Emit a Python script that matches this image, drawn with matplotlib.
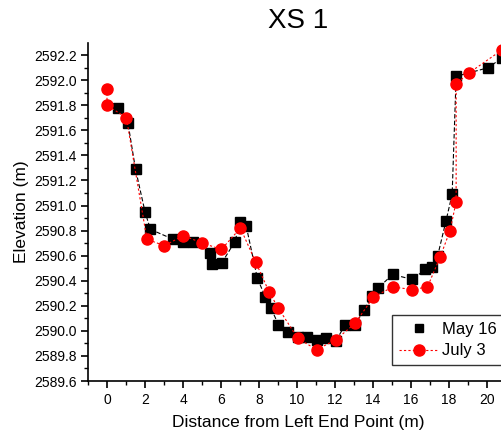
import matplotlib
matplotlib.use('Agg')
import matplotlib.pyplot as plt
from matplotlib.ticker import MultipleLocator, FormatStrFormatter
from matplotlib.lines import Line2D

# Survey of May 16 (black squares).
may_x = [0.6, 1.1, 1.5, 2.0, 2.28, 3.49, 3.98, 4.51, 5.42, 5.54, 6.03, 6.72,
	7.02, 7.32, 7.91, 8.33, 8.63, 9.02, 9.51, 10.04, 10.54, 11.03, 11.54,
	12.05, 12.53, 13.05, 13.54, 13.93, 14.25, 15.03, 16.07, 16.74, 17.09,
	17.40, 17.84, 18.16, 18.37, 20.07, 20.8]
may_y = [2591.78, 2591.66, 2591.29, 2590.95, 2590.81, 2590.73, 2590.71,
	2590.71, 2590.62, 2590.53, 2590.54, 2590.71, 2590.87, 2590.84, 2590.42,
	2590.27, 2590.18, 2590.05, 2589.99, 2589.95, 2589.95, 2589.93, 2589.94,
	2589.92, 2590.05, 2590.05, 2590.17, 2590.28, 2590.34, 2590.45, 2590.41,
	2590.49, 2590.51, 2590.60, 2590.88, 2591.09, 2592.03, 2592.10, 2592.18]

# Survey of July 3 (red circles).
july_x = [0, 0, 1.02, 2.1, 3.02, 4.02, 5.02, 6.02, 7.02, 7.82, 8.53, 9.02,
	10.04, 11.03, 12.05, 13.05, 14.02, 15.03, 16.07, 16.86, 17.53, 18.05,
	18.37, 18.37, 19.07, 20.77]
july_y = [2591.93, 2591.80, 2591.70, 2590.73, 2590.68, 2590.76, 2590.70,
	2590.65, 2590.82, 2590.55, 2590.31, 2590.18, 2589.94, 2589.85, 2589.93,
	2590.06, 2590.27, 2590.35, 2590.33, 2590.35, 2590.59, 2590.80, 2591.03,
	2591.97, 2592.06, 2592.24]

plt.rcParams['font.family'] = ['Liberation Sans', 'DejaVu Sans']

fig = plt.figure(figsize=(5.02, 4.41), dpi=100)
ax = fig.add_axes([0.1753, 0.136, 0.8367, 0.7664])

# Black series first so the red circles sit on top.
ax.plot(may_x, may_y, color='black', lw=0.8, ls=(0, (4, 2)),
	marker='s', ms=7, mec='black', mfc='black', zorder=2)
ax.plot(july_x, july_y, color='red', lw=0.8, ls=(0, (2, 2)),
	marker='o', ms=8, mec='red', mfc='red', zorder=3)

ax.set_xlim(-1, 21.1)
ax.set_ylim(2589.6, 2592.296)
ax.xaxis.set_major_locator(MultipleLocator(2))
ax.xaxis.set_minor_locator(MultipleLocator(1))
ax.yaxis.set_major_locator(MultipleLocator(0.2))
ax.yaxis.set_minor_locator(MultipleLocator(0.1))
ax.yaxis.set_major_formatter(FormatStrFormatter('%.1f'))

for side in ['top', 'right']:
	ax.spines[side].set_visible(False)
for side in ['left', 'bottom']:
	ax.spines[side].set_linewidth(1.2)
ax.tick_params(which='major', direction='out', length=5, width=1.2, labelsize=10)
ax.tick_params(which='minor', direction='out', length=3, width=1.0)
ax.tick_params(axis='y', labelsize=10, pad=3)

ax.set_title('XS 1', fontsize=20, pad=11)
ax.set_xlabel('Distance from Left End Point (m)', fontsize=12.5, labelpad=6)
ax.set_ylabel('Elevation (m)', fontsize=12.5, labelpad=4)

# Legend: May 16 shows only the marker, July 3 the dotted line too.
handles = [
	Line2D([], [], ls='none', marker='s', ms=6, color='black'),
	Line2D([], [], color='red', lw=0.8, ls=(0, (2, 2)), marker='o', ms=8),
]
leg = ax.legend(handles, ['May 16', 'July 3'], loc='upper left',
	bbox_to_anchor=(392 / 502, 1 - 315 / 441), bbox_transform=fig.transFigure,
	fontsize=12, frameon=True, fancybox=False, borderpad=0.4,
	handlelength=2.4, handletextpad=0.2, labelspacing=0.4, borderaxespad=0)
leg.get_frame().set_edgecolor('black')
leg.get_frame().set_linewidth(1.0)

fig.savefig('out.png', dpi=100)
